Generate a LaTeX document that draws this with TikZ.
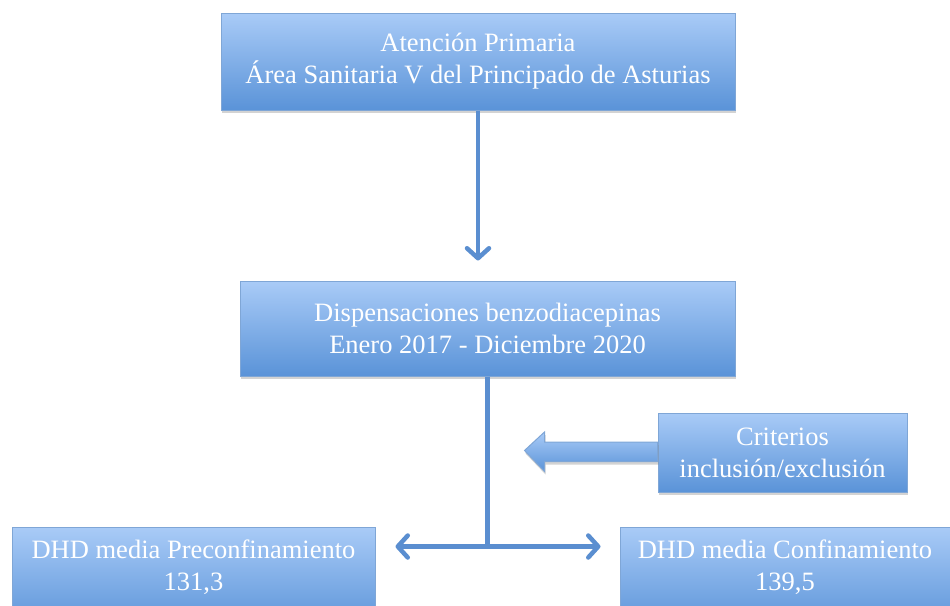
\documentclass[tikz,border=0pt]{standalone}
\usepackage{fontspec}
\setmainfont{Liberation Serif}
\usetikzlibrary{arrows.meta,shadows}
\definecolor{boxtop}{HTML}{A9CBF7}
\definecolor{boxbot}{HTML}{5A93D8}
\definecolor{boxline}{HTML}{7FA6D6}
\definecolor{arrowblue}{HTML}{5A8ED0}
\def\boxtext{\fontsize{26.5}{32}\selectfont}
\tikzset{box:style/.style={draw=boxline,line width=1pt,rectangle,top color=boxtop,bottom color=boxbot,
    drop shadow={shadow xshift=1pt,shadow yshift=-3pt,opacity=0.35},
    text=white,align=center,font=\boxtext,inner sep=0pt,minimum height=#1}}
\tikzset{edge:style/.style={draw=arrowblue,line width=4.5pt}}
\tikzset{tip:style/.style={-{Straight Barb[length=10pt,width=22pt,line width=4.5pt,round]}}}

\begin{document}
\begin{tikzpicture}[x=1pt,y=-1pt]
	\useasboundingbox (0,0) rectangle (950,605);
	
	\path (478,61.5) node[box:style=97pt,minimum width=514pt] (aten) {Atención Primaria\\ Área Sanitaria V del Principado de Asturias};
	\path (487.5,328.5) node[box:style=95pt,minimum width=495pt] (disp) {Dispensaciones benzodiacepinas\\ Enero 2017 - Diciembre 2020};
	\path (782.5,452.5) node[box:style=79pt,minimum width=249pt] (crit) {Criterios\\ inclusión/exclusión};
	\path (193.5,578) node[box:style=102pt,minimum width=363pt] (pre) {};
	\path (785,578) node[box:style=102pt,minimum width=330pt] (conf) {};
	\path (193.5,567) node[text=white,align=center,font=\boxtext] (pretext) {DHD media Preconfinamiento\\ 131,3};
	\path (785,567) node[text=white,align=center,font=\boxtext] (conftext) {DHD media Confinamiento\\ 139,5};
	
	\path (disp.south) ++(0,170) coordinate (split);
	\path (split) ++(-92,0) coordinate (leftend);
	\path (split) ++(113,0) coordinate (rightend);
	
	\path[edge:style,tip:style] (aten.south) -- ++(0,150);
	\path[edge:style] (disp.south) -- (split);
	\path[edge:style,tip:style] (split) -- (leftend);
	\path[edge:style,tip:style] (split) -- (rightend);
	
	% block arrow towards the dispensaciones line
	\path[draw=boxline,line width=1pt,top color=boxtop,bottom color=boxbot,
	      drop shadow={shadow xshift=1pt,shadow yshift=-3pt,opacity=0.35}]
		(crit.west) ++(0,-10.5) -- ++(-113,0) -- ++(0,-10) -- ++(-20,18.5)
		-- ++(20,21) -- ++(0,-10) -- ++(113,0) -- cycle;
	
\end{tikzpicture}
\end{document}
